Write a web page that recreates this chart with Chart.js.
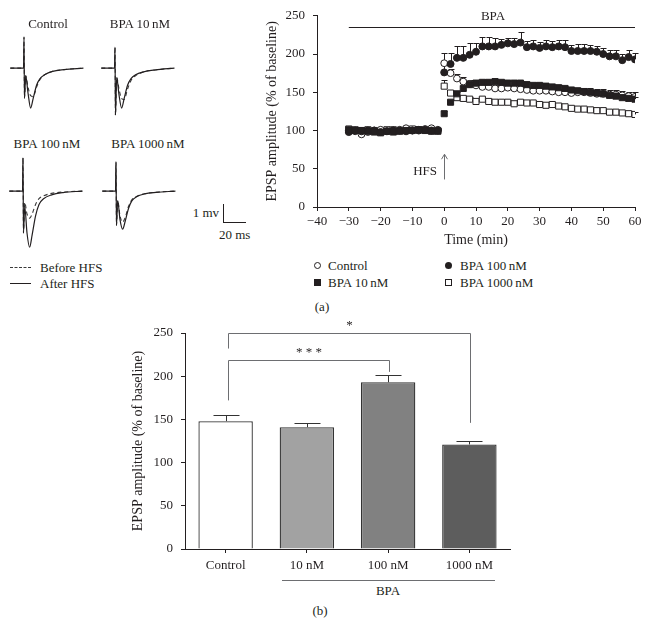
<!DOCTYPE html>
<html>
<head>
<meta charset="utf-8">
<script src="https://cdn.jsdelivr.net/npm/chart.js@4.4.0/dist/chart.umd.min.js"></script>
<style>
    body { margin: 0; background: #fff; }
    #page { position: relative; width: 646px; height: 636px; overflow: hidden; font-family: "Liberation Serif", serif; color: #231f20; }
    #page canvas { position: absolute; }
    .lbl { position: absolute; font-size: 13px; line-height: 1; white-space: nowrap; }
    .sym { position: absolute; box-sizing: border-box; }
</style>
</head>
<body>
<div id="page">
    <canvas id="trControl" width="80" height="99" style="left:8px;top:30px"></canvas>
    <canvas id="tr10" width="80" height="99" style="left:99px;top:30px"></canvas>
    <canvas id="tr100" width="80" height="99" style="left:7px;top:153px"></canvas>
    <canvas id="tr1000" width="80" height="99" style="left:100px;top:153px"></canvas>
    <canvas id="chartA" width="386" height="250" style="left:260px;top:0px"></canvas>
    <canvas id="chartB" width="410" height="260" style="left:126px;top:315px"></canvas>
</div>
<script>
// ---- EPSP traces (ms, mV) ----
const traceTime = [-12, -0.4, 0, 0.4, 1.5, 3.5, 5.8, 8, 11, 14, 18, 25, 35, 52];
const ctrlBefore = [0, 0, 1.63, -1.58, -0.4, -1.0, -1.45, -1.5, -1.0, -0.6, -0.35, -0.17, -0.08, 0];
const ctrlAfter = [0, 0, 1.63, -1.58, -0.4, -1.3, -2.1, -1.6, -0.9, -0.55, -0.35, -0.17, -0.08, 0];
const bpa10Before = [0, 0, 1.1, -2.47, -0.5, -1.1, -1.6, -1.65, -1.1, -0.65, -0.4, -0.2, -0.1, 0];
const bpa10After = [0, 0, 1.1, -2.47, -0.5, -1.4, -2.1, -1.6, -0.9, -0.55, -0.35, -0.2, -0.1, 0];
const bpa100Before = [0, 0, 1.74, -2.2, -0.6, -1.2, -1.42, -1.2, -0.7, -0.4, -0.25, -0.12, -0.05, 0];
const bpa100After = [0, 0, 1.74, -2.2, -0.8, -2.2, -2.95, -2.3, -1.3, -0.7, -0.4, -0.2, -0.08, 0];
const bpa1000Before = [0, 0, 1.53, -1.8, -0.5, -1.3, -1.63, -1.4, -0.8, -0.45, -0.28, -0.14, -0.06, 0];
const bpa1000After = [0, 0, 1.53, -1.8, -0.5, -1.5, -2.0, -1.6, -0.9, -0.5, -0.3, -0.15, -0.07, 0];

// ---- Time course (min, % of baseline) ----
const timePoints = [-30, -28, -26, -24, -22, -20, -18, -16, -14, -12, -10, -8, -6, -4, -2,
    0, 2, 4, 6, 8, 10, 12, 14, 16, 18, 20, 22, 24, 26, 28, 30, 32, 34, 36, 38, 40, 42, 44, 46, 48, 50, 52, 54, 56, 58, 60];
const controlMean = [100, 99, 95, 98, 100, 101, 99, 100, 101, 103, 100, 101, 102, 103, 101,
    188, 175, 168, 164, 161, 159, 157, 157, 155, 155, 156, 155, 154, 153, 152, 152, 152, 151, 150, 150, 149, 150, 150, 149, 148, 148, 147, 147, 146, 145, 144];
const controlErr = [2, 2, 2, 2, 2, 2, 2, 2, 2, 2, 2, 2, 2, 2, 2,
    13, 6, 6, 6, 5, 4, 4, 4, 4, 4, 4, 4, 4, 4, 4, 4, 4, 4, 4, 4, 5, 5, 6, 6, 6, 6, 6, 6, 6, 6, 6];
const bpa10Mean = [101, 100, 100, 99, 98, 97, 99, 98, 99, 100, 100, 101, 100, 99, 99,
    122, 137, 148, 155, 160, 162, 163, 163, 164, 163, 162, 162, 162, 160, 159, 159, 158, 157, 156, 155, 153, 152, 151, 150, 149, 148, 146, 145, 143, 142, 141];
const bpa10Err = [2, 2, 2, 2, 2, 2, 2, 2, 2, 2, 2, 2, 2, 2, 2,
    3, 3, 3, 3, 3, 3, 3, 3, 3, 3, 3, 3, 3, 3, 3, 3, 3, 3, 3, 3, 3, 3, 3, 3, 3, 3, 3, 3, 3, 3, 3];
const bpa100Mean = [98, 100, 99, 100, 100, 98, 99, 100, 100, 99, 100, 100, 101, 100, 100,
    176, 187, 195, 195, 199, 203, 210, 210, 210, 212, 214, 213, 215, 209, 210, 208, 210, 209, 210, 209, 204, 204, 204, 204, 203, 200, 197, 197, 192, 196, 193];
const bpa100Err = [2, 2, 2, 2, 2, 2, 2, 2, 2, 2, 2, 2, 2, 2, 2,
    10, 15, 16, 16, 16, 12, 12, 12, 11, 8, 7, 8, 14, 8, 8, 8, 8, 8, 8, 9, 8, 9, 9, 8, 8, 8, 8, 8, 8, 9, 9];
const bpa1000Mean = [102, 101, 100, 101, 100, 100, 101, 101, 100, 101, 102, 101, 101, 100, 100,
    158, 149, 143, 142, 141, 138, 141, 138, 137, 137, 137, 135, 137, 136, 136, 134, 133, 134, 132, 131, 129, 128, 128, 127, 126, 126, 124, 124, 123, 122, 121];
const bpa1000Err = [2, 2, 2, 2, 2, 2, 2, 2, 2, 2, 2, 2, 2, 2, 2,
    8, 3, 3, 3, 3, 3, 3, 3, 3, 3, 3, 3, 3, 3, 3, 3, 3, 3, 3, 3, 3, 3, 3, 3, 3, 3, 3, 3, 3, 3, 3];
const bpaStart = -30, bpaEnd = 60, bpaLevel = 235;   // BPA application bar
const hfsTime = 0, hfsFrom = 36, hfsTo = 69;         // HFS arrow

// ---- Summary bars ----
const barLabels = ["Control", "10 nM", "100 nM", "1000 nM"];
const barMeans = [148, 141, 193, 121];
const barErrs = [7, 5, 8, 4];
const barColors = ["#ffffff", "#a2a2a2", "#818181", "#5d5d5d"];
const sigFrom = [0, 0];
const sigTo = [2, 3];
const sigTop = [219, 250];
const sigLeftEnd = [172, 232];
const sigRightEnd = [205, 146];
const sigText = ["* * *", "*"];

const ink = "#231f20";
const serif = "'Liberation Serif', serif";
Chart.defaults.font.family = serif;
Chart.defaults.font.size = 13;
Chart.defaults.color = ink;

const page = document.getElementById("page");
function addLabel(text, x, y, align) {
    const d = document.createElement("div");
    d.className = "lbl";
    d.textContent = text;
    d.style.left = x + "px";
    d.style.top = y + "px";
    const tx = align === "left" ? "0" : (align === "right" ? "-100%" : "-50%");
    d.style.transform = "translate(" + tx + ",-50%)";
    page.appendChild(d);
}
function addBox(x, y, w, h, css) {
    const d = document.createElement("div");
    d.className = "sym";
    d.style.left = (x - w / 2) + "px";
    d.style.top = (y - h / 2) + "px";
    d.style.width = w + "px";
    d.style.height = h + "px";
    d.style.cssText += css;
    page.appendChild(d);
}

// Create a trace panel
function createTrace(id, before, after) {
    const toPts = (arr) => traceTime.map((t, i) => ({x: t, y: arr[i]}));
    new Chart(document.getElementById(id), {
        type: "line",
        data: {
            datasets: [
                {data: toPts(after), borderColor: ink, borderWidth: 1.2, pointRadius: 0, cubicInterpolationMode: "monotone"},
                {data: toPts(before), borderColor: "#3a3a3a", borderWidth: 1.1, borderDash: [4, 3], pointRadius: 0, cubicInterpolationMode: "monotone"}
            ]
        },
        options: {
            responsive: false,
            animation: false,
            devicePixelRatio: 1,
            layout: {padding: 0},
            plugins: {legend: {display: false}, tooltip: {enabled: false}},
            scales: {
                x: {type: "linear", min: -14, max: 56, display: false},
                y: {min: -3.2, max: 2.0, display: false}
            }
        }
    });
}
createTrace("trControl", ctrlBefore, ctrlAfter);
createTrace("tr10", bpa10Before, bpa10After);
createTrace("tr100", bpa100Before, bpa100After);
createTrace("tr1000", bpa1000Before, bpa1000After);

addLabel("Control", 48, 23);
addLabel("BPA 10\u2009nM", 140, 23);
addLabel("BPA 100\u2009nM", 47, 143);
addLabel("BPA 1000\u2009nM", 148, 143);

// Scale bar
addBox(223, 213, 1, 19, "background:" + ink + ";");
addBox(234, 222.5, 23, 1, "background:" + ink + ";");
addLabel("1 mv", 219, 212, "right");
addLabel("20 ms", 219, 234, "left");

// Trace legend
addBox(20, 267, 21, 0, "border-top:1px dashed #3a3a3a;");
addBox(20, 283, 21, 1, "background:" + ink + ";");
addLabel("Before HFS", 40, 267, "left");
addLabel("After HFS", 40, 283, "left");

// Time-course chart (first dataset is drawn on top)
const errSeries = [bpa10Err, bpa100Err, controlErr, bpa1000Err];
const annotateA = {
    id: "annotateA",
    beforeDatasetsDraw(chart) {
        const {ctx, scales: {x, y}} = chart;
        ctx.save();
        ctx.strokeStyle = ink;
        ctx.lineWidth = 1;
        // Error bars (upward)
        chart.data.datasets.forEach((ds, i) => {
            const errs = errSeries[i];
            ds.data.forEach((p, j) => {
                const px = Math.round(x.getPixelForValue(p.x)) + 0.5;
                const y0 = y.getPixelForValue(p.y);
                const y1 = Math.round(y.getPixelForValue(p.y + errs[j])) + 0.5;
                ctx.beginPath();
                ctx.moveTo(px, y0);
                ctx.lineTo(px, y1);
                ctx.moveTo(px - 3, y1);
                ctx.lineTo(px + 3, y1);
                ctx.stroke();
            });
        });
        // BPA bar
        const by = Math.round(y.getPixelForValue(bpaLevel)) + 0.5;
        ctx.beginPath();
        ctx.moveTo(x.getPixelForValue(bpaStart), by);
        ctx.lineTo(x.getPixelForValue(bpaEnd), by);
        ctx.stroke();
        // HFS arrow
        const ax = Math.round(x.getPixelForValue(hfsTime)) + 0.5;
        const ay0 = y.getPixelForValue(hfsFrom);
        const ay1 = y.getPixelForValue(hfsTo);
        ctx.strokeStyle = "#6d6e71";
        ctx.beginPath();
        ctx.moveTo(ax, ay0);
        ctx.lineTo(ax, ay1);
        ctx.moveTo(ax - 3, ay1 + 5);
        ctx.lineTo(ax, ay1);
        ctx.lineTo(ax + 3, ay1 + 5);
        ctx.stroke();
        ctx.restore();
    }
};

const toXY = (arr) => timePoints.map((t, i) => ({x: t, y: arr[i]}));
new Chart(document.getElementById("chartA"), {
    type: "scatter",
    data: {
        datasets: [
            {label: "BPA 10 nM", data: toXY(bpa10Mean), pointStyle: "rect", pointRadius: 4.3, backgroundColor: ink, borderColor: ink, borderWidth: 1},
            {label: "BPA 100 nM", data: toXY(bpa100Mean), pointStyle: "circle", pointRadius: 3.5, backgroundColor: ink, borderColor: ink, borderWidth: 1},
            {label: "Control", data: toXY(controlMean), pointStyle: "circle", pointRadius: 3.4, backgroundColor: "#ffffff", borderColor: ink, borderWidth: 1},
            {label: "BPA 1000 nM", data: toXY(bpa1000Mean), pointStyle: "rect", pointRadius: 4.3, backgroundColor: "#ffffff", borderColor: ink, borderWidth: 1}
        ]
    },
    options: {
        responsive: false,
        animation: false,
        devicePixelRatio: 1,
        layout: {padding: {left: 0, top: 13, right: 11, bottom: 0}},
        plugins: {legend: {display: false}, tooltip: {enabled: false}},
        scales: {
            x: {
                type: "linear", min: -40, max: 60,
                afterFit: (s) => { s.height = 43; },
                ticks: {stepSize: 10, padding: 3, maxRotation: 0, callback: (v) => String(v).replace("-", "\u2212")},
                grid: {drawOnChartArea: false, tickLength: 4, color: ink},
                border: {color: ink, width: 1},
                title: {display: true, text: "Time (min)", font: {size: 14}, padding: {top: 0, bottom: 1}}
            },
            y: {
                min: 0, max: 250,
                afterFit: (s) => { s.width = 57; },
                ticks: {stepSize: 50, padding: 8},
                grid: {drawOnChartArea: false, tickLength: 4, color: ink},
                border: {color: ink, width: 1},
                title: {display: true, text: "EPSP amplitude (% of baseline)", font: {size: 14}, padding: {top: 4, bottom: 0}}
            }
        }
    },
    plugins: [annotateA]
});

addLabel("BPA", 493, 15);
addLabel("HFS", 437, 170, "right");

// Time-course legend
addBox(317, 265, 7, 7, "border:1px solid " + ink + ";border-radius:50%;");
addBox(317, 282, 7, 7, "background:" + ink + ";");
addBox(448, 265, 7, 7, "background:" + ink + ";border-radius:50%;");
addBox(448, 282, 7, 7, "border:1px solid " + ink + ";");
addLabel("Control", 328, 265, "left");
addLabel("BPA 10\u2009nM", 328, 282, "left");
addLabel("BPA 100\u2009nM", 460, 265, "left");
addLabel("BPA 1000\u2009nM", 460, 282, "left");
addLabel("(a)", 322, 306);

// Summary bar chart
const annotateB = {
    id: "annotateB",
    afterDatasetsDraw(chart) {
        const {ctx, scales: {x, y}} = chart;
        ctx.save();
        ctx.lineWidth = 1;
        ctx.strokeStyle = "#333333";
        // Error bars (upward)
        barMeans.forEach((m, i) => {
            const px = Math.round(x.getPixelForValue(i)) + 0.5;
            const y0 = y.getPixelForValue(m);
            const y1 = Math.round(y.getPixelForValue(m + barErrs[i])) + 0.5;
            ctx.beginPath();
            ctx.moveTo(px, y0);
            ctx.lineTo(px, y1);
            ctx.moveTo(px - 13, y1);
            ctx.lineTo(px + 13, y1);
            ctx.stroke();
        });
        // Significance brackets
        ctx.strokeStyle = "#6d6e71";
        ctx.fillStyle = ink;
        ctx.font = "13px " + serif;
        ctx.textAlign = "center";
        ctx.textBaseline = "middle";
        sigFrom.forEach((a, k) => {
            const xa = Math.round(x.getPixelForValue(a)) + 2.5;
            const xb = Math.round(x.getPixelForValue(sigTo[k])) + 1.5;
            const yt = Math.round(y.getPixelForValue(sigTop[k])) + 0.5;
            ctx.beginPath();
            ctx.moveTo(xa, y.getPixelForValue(sigLeftEnd[k]));
            ctx.lineTo(xa, yt);
            ctx.lineTo(xb, yt);
            ctx.lineTo(xb, y.getPixelForValue(sigRightEnd[k]));
            ctx.stroke();
            ctx.fillText(sigText[k], (xa + xb) / 2, yt - 8);
        });
        ctx.restore();
    }
};

new Chart(document.getElementById("chartB"), {
    type: "bar",
    data: {
        labels: barLabels,
        datasets: [{
            data: barMeans,
            backgroundColor: barColors,
            borderColor: "#333333",
            borderWidth: 1.3,
            barPercentage: 0.67,
            categoryPercentage: 1
        }]
    },
    options: {
        responsive: false,
        animation: false,
        devicePixelRatio: 1,
        layout: {padding: {left: 0, top: 18, right: 26, bottom: 0}},
        plugins: {legend: {display: false}, tooltip: {enabled: false}},
        scales: {
            x: {
                afterFit: (s) => { s.height = 26; },
                ticks: {padding: 5, maxRotation: 0},
                grid: {drawOnChartArea: false, offset: false, tickLength: 4, color: ink},
                border: {color: ink, width: 1}
            },
            y: {
                min: 0, max: 250,
                afterFit: (s) => { s.width = 59; },
                ticks: {stepSize: 50, padding: 8},
                grid: {drawOnChartArea: false, tickLength: 4, color: ink},
                border: {color: ink, width: 1},
                title: {display: true, text: "EPSP amplitude (% of baseline)", font: {size: 14}, padding: {top: 4, bottom: 0}}
            }
        }
    },
    plugins: [annotateB]
});

addBox(388.5, 580, 213, 1, "background:#6d6e71;");
addLabel("BPA", 388, 590);
addLabel("(b)", 320, 610);
</script>
</body>
</html>
